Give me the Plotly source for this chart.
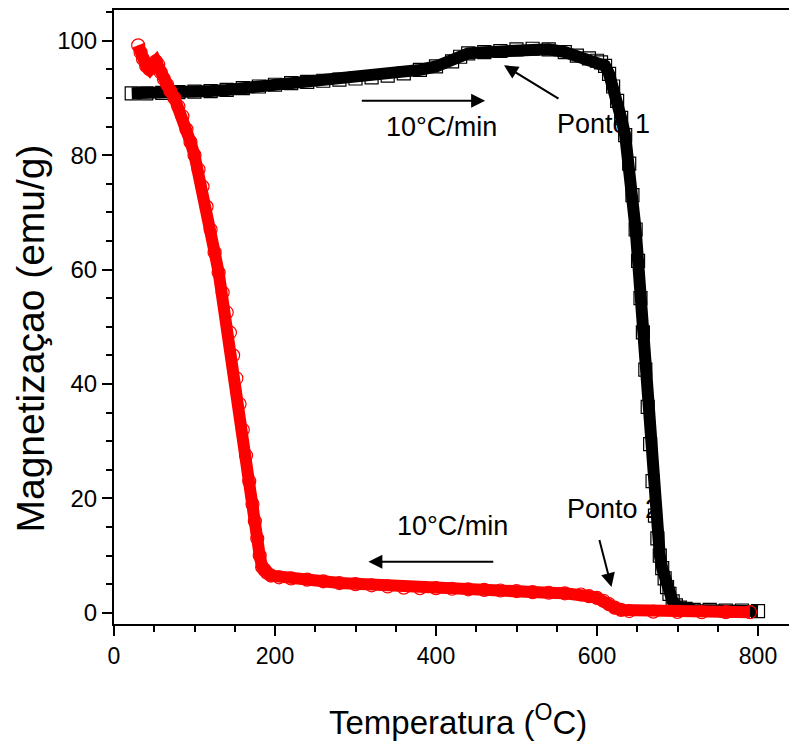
import plotly.graph_objects as go

# Heating run (black open squares): temperature in °C, magnetization in emu/g
heat_T = [22, 40, 60, 80, 100, 120, 140, 160, 180, 200, 220, 240, 260, 280, 300,
          320, 340, 360, 380, 400, 420, 430, 440, 460, 480, 500, 520, 540, 560, 575,
          590, 600, 605, 610, 615, 620, 625, 630, 635, 640, 644, 648, 651, 654, 657,
          660, 663, 666, 669, 672, 675, 678, 681, 684, 687, 690, 694, 698, 703, 710,
          720, 740, 760, 780, 800]
heat_M = [90.8, 90.8, 90.9, 91.0, 91.1, 91.2, 91.4, 91.7, 92.0, 92.3, 92.6, 92.8, 93.0, 93.2, 93.4,
          93.6, 93.9, 94.3, 94.9, 95.5, 96.4, 97.2, 97.8, 98.0, 98.2, 98.5, 98.6, 98.5, 98.0, 97.4,
          96.9, 96.5, 96.2, 95.6, 94.2, 92.0, 89.5, 86.5, 83.5, 78.5, 73.0, 67.0, 61.5, 55.0, 49.0,
          42.5, 36.0, 29.5, 23.0, 17.0, 13.0, 10.0, 7.8, 6.0, 4.5, 3.3, 2.0, 1.3, 0.9, 0.7,
          0.5, 0.5, 0.4, 0.4, 0.3]

# Cooling run (red open circles), recorded from 790 °C down to room temperature
cool_T = [790, 760, 730, 700, 670, 640, 630, 622, 615, 608, 600, 590, 580, 560, 540,
          520, 500, 480, 460, 440, 420, 400, 380, 360, 340, 320, 300, 280, 260, 240,
          220, 205, 195, 190, 187, 184, 181, 178, 175, 172, 168, 164, 160, 156, 152,
          148, 144, 140, 135, 130, 125, 120, 115, 110, 105, 100, 95, 90, 85, 80,
          75, 70, 66, 62, 58, 55, 52, 48, 44, 40, 36, 33, 30]
cool_M = [0.1, 0.1, 0.1, 0.15, 0.2, 0.3, 0.5, 0.9, 1.5, 2.1, 2.6, 2.9, 3.2, 3.4, 3.5,
          3.6, 3.8, 3.9, 4.0, 4.1, 4.2, 4.3, 4.3, 4.4, 4.6, 4.8, 5.0, 5.2, 5.5, 5.8,
          6.0, 6.2, 6.5, 7.0, 7.5, 8.0, 10.0, 13.0, 16.0, 19.0, 23.0, 27.5, 32.0, 36.5, 41.0,
          45.0, 49.0, 52.5, 56.0, 59.5, 63.0, 67.0, 71.0, 74.5, 77.5, 80.0, 82.3, 84.5, 86.8, 88.5,
          90.0, 91.2, 92.3, 93.3, 94.5, 95.8, 96.4, 95.8, 95.0, 95.6, 96.8, 98.0, 99.2]

x_ticks = [0, 200, 400, 600, 800]
y_ticks = [0, 20, 40, 60, 80, 100]

FONT = "Liberation Sans, Arial, sans-serif"

fig = go.Figure()

fig.add_trace(go.Scatter(
    x=heat_T, y=heat_M, mode="lines+markers",
    line=dict(color="black", width=12),
    marker=dict(symbol="square-open", size=13, color="black", line=dict(width=1.2, color="black")),
    showlegend=False,
))
fig.add_trace(go.Scatter(
    x=cool_T, y=cool_M, mode="lines+markers",
    line=dict(color="#ff0000", width=12),
    marker=dict(symbol="circle-open", size=13, color="#ff0000", line=dict(width=1.2, color="#ff0000")),
    showlegend=False,
))

arrow = dict(xref="x", yref="y", axref="x", ayref="y", showarrow=True, arrowhead=2,
             arrowsize=1.4, arrowwidth=2, arrowcolor="black", text="")
label_font = dict(family=FONT, size=27, color="black")

annotations = [
    # heating-rate arrow and label (upper)
    dict(arrow, x=461, y=89.5, ax=306, ay=89.5),
    dict(x=407, y=85.0, xref="x", yref="y", text="10°C/min", showarrow=False, font=label_font),
    # cooling-rate arrow and label (lower)
    dict(arrow, x=316, y=8.9, ax=473, ay=8.9),
    dict(x=420, y=15.1, xref="x", yref="y", text="10°C/min", showarrow=False, font=label_font),
    # Ponto 1
    dict(arrow, x=484.5, y=95.7, ax=554, ay=89.7),
    dict(x=607.5, y=85.4, xref="x", yref="y", text="Ponto 1", showarrow=False, font=label_font),
    # Ponto 2
    dict(arrow, x=618, y=4.5, ax=602.5, ay=13.0),
    dict(x=620, y=18.1, xref="x", yref="y", text="Ponto 2", showarrow=False, font=label_font),
    # axis titles
    dict(x=-0.124, y=48, xref="paper", yref="y", xanchor="center", yanchor="middle",
         text="Magnetizaçao (emu/g)", textangle=-90, showarrow=False,
         font=dict(family=FONT, size=39, color="black")),
    dict(x=426.7, y=-0.157, xref="x", yref="paper", xanchor="center", yanchor="middle",
         text="Temperatura (<sup>O</sup>C)", showarrow=False,
         font=dict(family=FONT, size=33, color="black")),
]

fig.update_layout(
    width=789, height=744,
    margin=dict(l=114, r=0, t=10, b=120),
    paper_bgcolor="white", plot_bgcolor="white",
    annotations=annotations,
    font=dict(family=FONT, color="black"),
)

fig.update_xaxes(
    range=[0, 838.5], tickvals=x_ticks, ticks="outside", ticklen=10, tickwidth=2,
    tickcolor="black", showline=True, linewidth=2, linecolor="black", mirror=True,
    showgrid=False, zeroline=False, tickfont=dict(family=FONT, size=23, color="black"),
    minor=dict(dtick=50, tick0=0, ticks="outside", ticklen=6, tickwidth=2, tickcolor="black"),
)
fig.update_yaxes(
    range=[-1.96, 105.37], tickvals=y_ticks, ticks="outside", ticklen=10, tickwidth=2,
    tickcolor="black", showline=True, linewidth=2, linecolor="black", mirror=False,
    showgrid=False, zeroline=False, tickfont=dict(family=FONT, size=24, color="black"),
    minor=dict(dtick=5, tick0=0, ticks="outside", ticklen=6, tickwidth=2, tickcolor="black"),
)

fig.write_html("out.html")
